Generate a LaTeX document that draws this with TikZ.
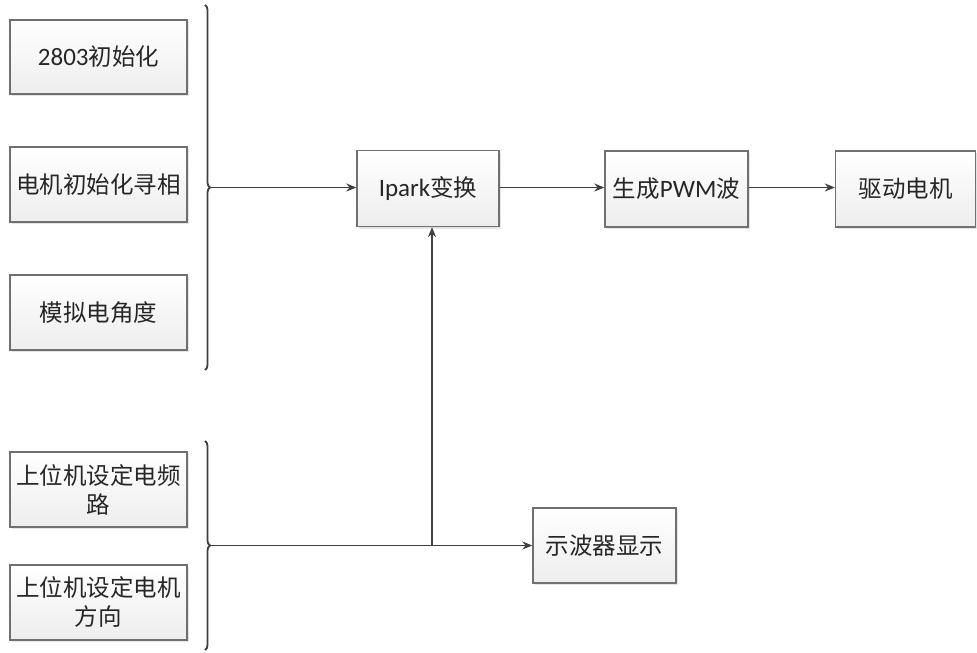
\documentclass[tikz,border=0pt]{standalone}
\usepackage{fontspec}
\setmainfont{Carlito}
\newfontfamily\cjk{Noto Sans CJK SC}
\newfontfamily\lat{Carlito}
\usetikzlibrary{arrows.meta,decorations.pathreplacing,shadows}
\definecolor{linec}{HTML}{404040}
\definecolor{textc}{HTML}{262626}
\newcommand{\la}[1]{{\lat\fontsize{25}{29}\selectfont #1}}
\tikzset{
  box/.style={draw=linec!75, line width=1.3pt, top color=white, bottom color=gray!14,
    drop shadow={opacity=0.2, shadow xshift=2pt, shadow yshift=-2pt},
    minimum height=75pt, align=center, text=textc,
    font=\cjk\fontsize{23.5}{29}\selectfont, inner sep=2pt},
  arr/.style={draw=linec, line width=1.6pt, -{Stealth[length=10pt,width=8pt]}},
  brc/.style={draw=linec, line width=1.8pt, decorate, decoration={brace, amplitude=5pt}}
}
\begin{document}
\begin{tikzpicture}[x=1pt,y=-1pt]
\useasboundingbox[fill=white] (0,0) rectangle (977,653);
\node[box, minimum width=177pt, minimum height=74pt] (b1) at (98.5,57) {\la{2803}初始化};
\node[box, minimum width=177pt] (b2) at (98.5,184.5) {电机初始化寻相};
\node[box, minimum width=177pt] (b3) at (98.5,312.5) {模拟电角度};
\node[box, minimum width=177pt, text width=172pt] (b4) at (98.5,489.5) {上位机设定电频\\路};
\node[box, minimum width=177pt, text width=172pt] (b5) at (98.5,602.5) {上位机设定电机\\方向};
\node[box, minimum width=142pt, minimum height=76pt] (ipark) at (428,188.5) {\la{Ipark}变换};
\node[box, minimum width=143pt, minimum height=76pt] (pwm) at (676.5,189) {生成\la{PWM}波};
\node[box, minimum width=140pt, minimum height=76pt] (drv) at (905.5,189) {驱动电机};
\node[box, minimum width=143pt] (scope) at (604.5,545.5) {示波器显示};
\draw[brc] (205,5) -- (205,370);
\draw[brc] (205,441) -- (205,650);
\coordinate (t1) at (210,187.5);
\coordinate (t2) at (210,545.5);
\coordinate (j) at (432,545.5);
\draw[arr] (t1) -- (t1 -| ipark.west);
\draw[arr] (t1 -| ipark.east) -- (t1 -| pwm.west);
\draw[arr] (t1 -| pwm.east) -- (t1 -| drv.west);
\draw[arr] (t2) -- (t2 -| scope.west);
\draw[arr] (j) -- (j |- ipark.south);
\end{tikzpicture}
\end{document}
